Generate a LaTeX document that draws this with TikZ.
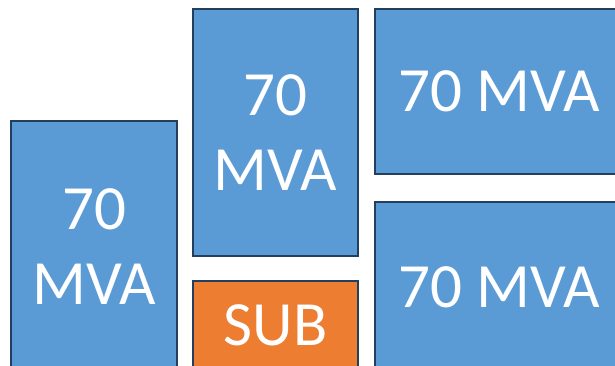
\documentclass[tikz,border=0pt]{standalone}
\usepackage{fontspec}
\setmainfont{Carlito}
\definecolor{boxblue}{HTML}{5B9BD5}
\definecolor{boxorange}{HTML}{ED7D31}
\definecolor{boxline}{HTML}{223F5E}
\begin{document}
\begin{tikzpicture}[x=1pt,y=-1pt,
  unit/.style={rectangle, draw=boxline, line width=2.6pt, fill=boxblue, text=white,
    align=center, inner sep=0pt, font=\fontsize{63}{75}\selectfont},
  subunit/.style={unit, fill=boxorange}]
\useasboundingbox (0,0) rectangle (615,365);
\clip (0,0) rectangle (615,365);
\node[unit, minimum width=166pt, minimum height=252pt] (left) at (94,247) {70\\MVA};
\node[unit, minimum width=165pt, minimum height=247pt] (midtop) at (275.5,132.5) {70\\MVA};
\node[subunit, minimum width=165pt, minimum height=88pt] (sub) at (275.5,325) {SUB};
\node[unit, minimum width=248pt, minimum height=165pt] (righttop) at (499,91.5) {70 MVA};
\node[unit, minimum width=248pt, minimum height=170pt] (rightbot) at (499,287) {70 MVA};
\end{tikzpicture}
\end{document}
